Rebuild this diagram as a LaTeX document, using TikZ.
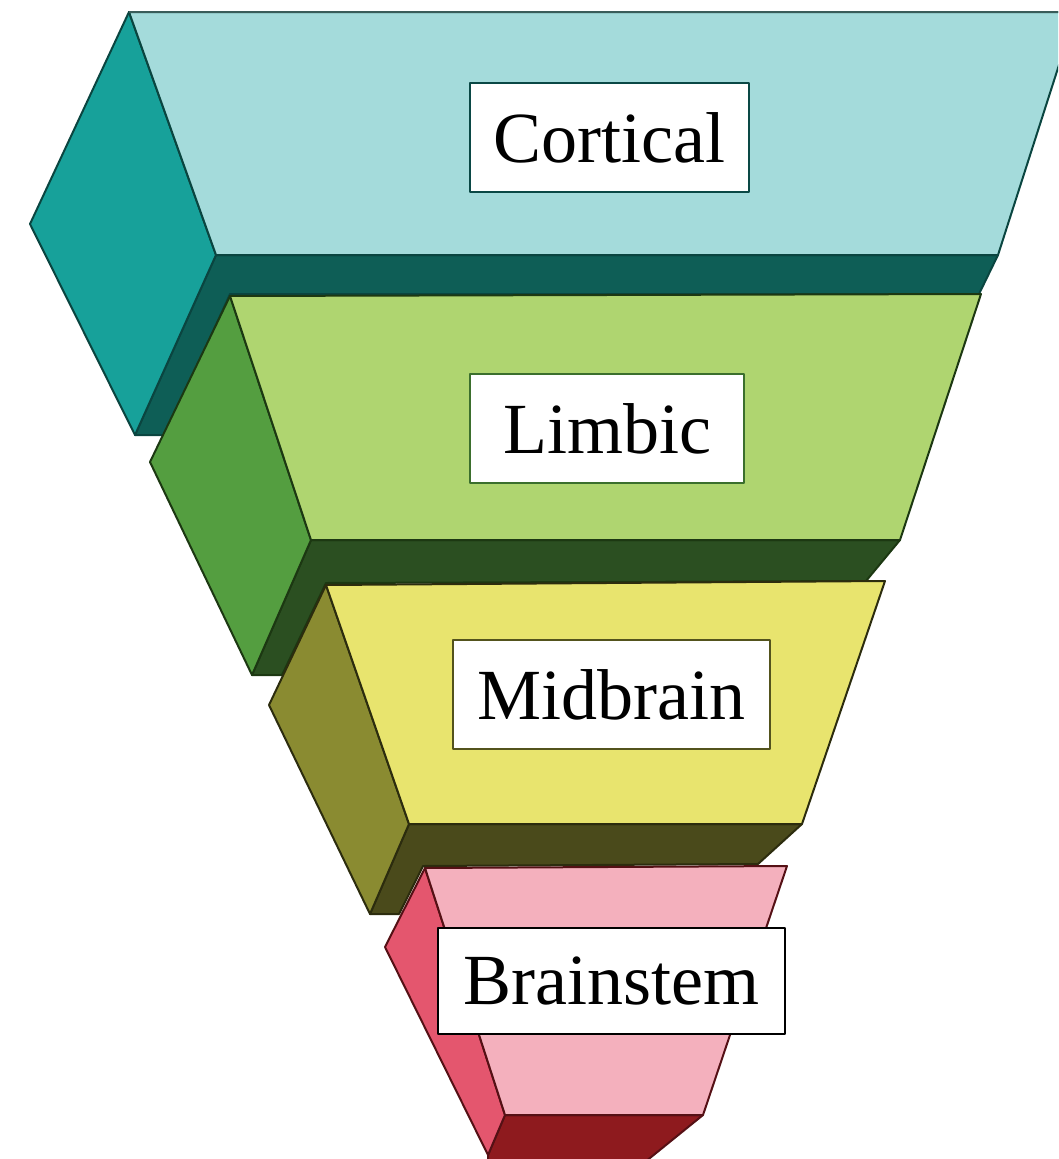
\documentclass[tikz,border=0pt]{standalone}
\usepackage{fontspec}
\setmainfont{Liberation Serif}
\usepackage{xcolor}
\usepackage{tikz}
\definecolor{cortfront}{HTML}{A4DBDB}
\definecolor{cortside}{HTML}{17A19A}
\definecolor{cortbase}{HTML}{0E5E56}
\definecolor{cortline}{HTML}{0A4540}
\definecolor{limbfront}{HTML}{AFD570}
\definecolor{limbside}{HTML}{549E40}
\definecolor{limbbase}{HTML}{2B4F21}
\definecolor{limbline}{HTML}{1C3812}
\definecolor{midfront}{HTML}{E8E46E}
\definecolor{midside}{HTML}{8A8B31}
\definecolor{midbase}{HTML}{4A4A1B}
\definecolor{midline}{HTML}{2C2C0E}
\definecolor{stemfront}{HTML}{F4B0BD}
\definecolor{stemside}{HTML}{E4566E}
\definecolor{stembase}{HTML}{8E1A1E}
\definecolor{stemline}{HTML}{551015}

\begin{document}
\begin{tikzpicture}[x=1pt,y=-1pt,
      line width=2pt,line join=round,
      face/.style={draw=#1line},
      cort/.style={face=cort,fill=cort#1},
      limb/.style={face=limb,fill=limb#1},
      mid/.style={face=mid,fill=mid#1},
      stem/.style={face=stem,fill=stem#1},
      lbl/.style={fill=white,draw=#1,line width=1.6pt,inner sep=0pt,
                  minimum height=109pt,font=\fontsize{72}{80}\selectfont}]

    \useasboundingbox (0,0) rectangle (1058,1159);
    \clip (0,0) rectangle (1058,1159);

    \draw[cort=base] (216,255) -- (998,255) -- (979,294) -- (230,294) -- (166,435) -- (135,435) -- cycle;
    \draw[cort=side] (129,12) -- (30,224) -- (135,435) -- (216,255) -- cycle;
    \draw[cort=front] (129,12) -- (1076,12) -- (998,255) -- (216,255) -- cycle;
    \draw[draw=cortline!60!gray,line width=2.5pt] (129,12) -- (1076,12);

    \draw[limb=base] (311,540) -- (900,540) -- (866,581) -- (326,583) -- (282,675) -- (252,675) -- cycle;
    \draw[limb=side] (230,296) -- (150,462) -- (252,675) -- (311,540) -- cycle;
    \draw[limb=front] (230,296) -- (981,294) -- (900,540) -- (311,540) -- cycle;

    \draw[mid=base] (409,824) -- (802,824) -- (758,864) -- (423,866) -- (399,914) -- (370,914) -- cycle;
    \draw[mid=side] (326,585) -- (269,705) -- (370,914) -- (409,824) -- cycle;
    \draw[mid=front] (326,585) -- (885,581) -- (802,824) -- (409,824) -- cycle;

    \draw[stem=base] (505,1115) -- (703,1115) -- (645,1162) -- (488,1162) -- (488,1155) -- cycle;
    \draw[stem=side] (425,868) -- (385,947) -- (488,1155) -- (505,1115) -- cycle;
    \draw[stem=front] (425,868) -- (787,866) -- (703,1115) -- (505,1115) -- cycle;

    \node[lbl=cortside!45!black,minimum width=279pt] (cortical) at (609.5,137.5) {Cortical};
    \node[lbl=limbside!70!black,minimum width=274pt] (limbic) at (607,428.5) {Limbic};
    \node[lbl=midside!60!black,minimum width=317pt] (midbrain) at (611.5,694.5) {Midbrain};
    \node[lbl=black,line width=2.2pt,minimum width=347pt,minimum height=106pt] (brainstem) at (611.5,981) {Brainstem};
  \end{tikzpicture}
\end{document}
